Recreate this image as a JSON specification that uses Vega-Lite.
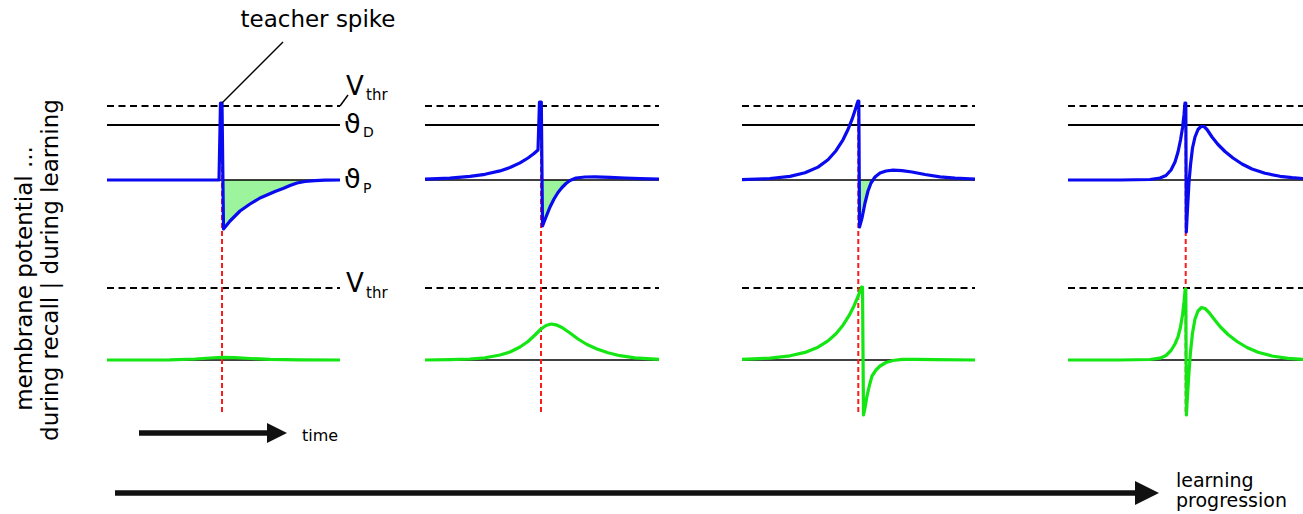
{
  "$schema": "https://vega.github.io/schema/vega-lite/v6.json",
  "width": 1303,
  "height": 514,
  "autosize": {"type": "none"},
  "padding": 0,
  "background": "white",
  "config": {"view": {"stroke": null}, "font": "DejaVu Sans"},
  "encoding": {
    "x": {"field": "x", "type": "quantitative", "scale": {"domain": [0, 1303], "nice": false, "zero": false}, "axis": null},
    "y": {"field": "y", "type": "quantitative", "scale": {"domain": [0, 514], "nice": false, "zero": false, "reverse": true}, "axis": null}
  },
  "datasets": {
    "fills": [
      {"p": 1, "x": 222.4, "y": 180, "b": 180}, {"p": 1, "x": 223.5, "y": 229, "b": 180}, {"p": 1, "x": 226, "y": 226, "b": 180}, {"p": 1, "x": 230, "y": 221, "b": 180}, {"p": 1, "x": 235, "y": 216, "b": 180}, {"p": 1, "x": 240, "y": 211, "b": 180}, {"p": 1, "x": 250, "y": 204, "b": 180}, {"p": 1, "x": 260, "y": 198, "b": 180}, {"p": 1, "x": 267, "y": 195, "b": 180}, {"p": 1, "x": 275, "y": 191.5, "b": 180}, {"p": 1, "x": 283, "y": 188.5, "b": 180}, {"p": 1, "x": 290, "y": 185.5, "b": 180}, {"p": 1, "x": 297, "y": 183, "b": 180}, {"p": 1, "x": 305, "y": 181.5, "b": 180}, {"p": 1, "x": 315, "y": 180.6, "b": 180}, {"p": 1, "x": 325, "y": 180, "b": 180},
      {"p": 2, "x": 541.8, "y": 180, "b": 180}, {"p": 2, "x": 542.5, "y": 226, "b": 180}, {"p": 2, "x": 546, "y": 217, "b": 180}, {"p": 2, "x": 550, "y": 207, "b": 180}, {"p": 2, "x": 554, "y": 199, "b": 180}, {"p": 2, "x": 558, "y": 192.5, "b": 180}, {"p": 2, "x": 562, "y": 187.5, "b": 180}, {"p": 2, "x": 566, "y": 183.5, "b": 180}, {"p": 2, "x": 570, "y": 180.5, "b": 180}, {"p": 2, "x": 571, "y": 180, "b": 180},
      {"p": 3, "x": 859.2, "y": 180, "b": 180}, {"p": 3, "x": 859.5, "y": 227, "b": 180}, {"p": 3, "x": 862, "y": 218, "b": 180}, {"p": 3, "x": 865, "y": 203, "b": 180}, {"p": 3, "x": 868, "y": 191, "b": 180}, {"p": 3, "x": 871, "y": 183, "b": 180}, {"p": 3, "x": 873.5, "y": 180, "b": 180}
    ],
    "blue": [
      {"p": 1, "x": 107, "y": 180}, {"p": 1, "x": 219, "y": 180}, {"p": 1, "x": 220.5, "y": 103}, {"p": 1, "x": 222, "y": 103}, {"p": 1, "x": 223.5, "y": 229}, {"p": 1, "x": 226, "y": 226}, {"p": 1, "x": 230, "y": 221}, {"p": 1, "x": 235, "y": 216}, {"p": 1, "x": 240, "y": 211}, {"p": 1, "x": 250, "y": 204}, {"p": 1, "x": 260, "y": 198}, {"p": 1, "x": 267, "y": 195}, {"p": 1, "x": 275, "y": 191.5}, {"p": 1, "x": 283, "y": 188.5}, {"p": 1, "x": 290, "y": 185.5}, {"p": 1, "x": 297, "y": 183}, {"p": 1, "x": 305, "y": 181.5}, {"p": 1, "x": 315, "y": 180.6}, {"p": 1, "x": 325, "y": 180.2}, {"p": 1, "x": 340, "y": 180},
      {"p": 2, "x": 425, "y": 179.1}, {"p": 2, "x": 450, "y": 178.1}, {"p": 2, "x": 470, "y": 176.4}, {"p": 2, "x": 485, "y": 174.3}, {"p": 2, "x": 500, "y": 170.9}, {"p": 2, "x": 510, "y": 167.5}, {"p": 2, "x": 520, "y": 162.9}, {"p": 2, "x": 528, "y": 158}, {"p": 2, "x": 534, "y": 153.5}, {"p": 2, "x": 538, "y": 150}, {"p": 2, "x": 539.5, "y": 102}, {"p": 2, "x": 541.3, "y": 102}, {"p": 2, "x": 542.5, "y": 226}, {"p": 2, "x": 546, "y": 217}, {"p": 2, "x": 550, "y": 207}, {"p": 2, "x": 554, "y": 199}, {"p": 2, "x": 558, "y": 192.5}, {"p": 2, "x": 562, "y": 187.5}, {"p": 2, "x": 566, "y": 183.5}, {"p": 2, "x": 570, "y": 180.5}, {"p": 2, "x": 576, "y": 178}, {"p": 2, "x": 585, "y": 177}, {"p": 2, "x": 595, "y": 176.8}, {"p": 2, "x": 610, "y": 177.3}, {"p": 2, "x": 625, "y": 178}, {"p": 2, "x": 640, "y": 178.6}, {"p": 2, "x": 659, "y": 179},
      {"p": 3, "x": 742, "y": 179.6}, {"p": 3, "x": 770, "y": 178.5}, {"p": 3, "x": 790, "y": 176.4}, {"p": 3, "x": 805, "y": 172.8}, {"p": 3, "x": 818, "y": 167.1}, {"p": 3, "x": 828, "y": 159.7}, {"p": 3, "x": 836, "y": 150.7}, {"p": 3, "x": 843, "y": 139.8}, {"p": 3, "x": 848, "y": 129.5}, {"p": 3, "x": 852, "y": 119.4}, {"p": 3, "x": 855, "y": 110.6}, {"p": 3, "x": 857, "y": 104}, {"p": 3, "x": 858, "y": 101}, {"p": 3, "x": 858.8, "y": 101}, {"p": 3, "x": 859.5, "y": 227}, {"p": 3, "x": 862, "y": 218}, {"p": 3, "x": 865, "y": 203}, {"p": 3, "x": 868, "y": 191}, {"p": 3, "x": 871, "y": 183}, {"p": 3, "x": 875, "y": 177}, {"p": 3, "x": 880, "y": 173}, {"p": 3, "x": 886, "y": 171}, {"p": 3, "x": 893, "y": 170.2}, {"p": 3, "x": 902, "y": 170.7}, {"p": 3, "x": 912, "y": 172}, {"p": 3, "x": 925, "y": 174.5}, {"p": 3, "x": 940, "y": 176.8}, {"p": 3, "x": 955, "y": 178.2}, {"p": 3, "x": 975, "y": 179},
      {"p": 4, "x": 1068, "y": 180}, {"p": 4, "x": 1120, "y": 180}, {"p": 4, "x": 1150, "y": 179.5}, {"p": 4, "x": 1160, "y": 178}, {"p": 4, "x": 1166, "y": 175.5}, {"p": 4, "x": 1171, "y": 170}, {"p": 4, "x": 1175, "y": 162}, {"p": 4, "x": 1178, "y": 152}, {"p": 4, "x": 1180.5, "y": 140}, {"p": 4, "x": 1182.5, "y": 128}, {"p": 4, "x": 1184, "y": 115}, {"p": 4, "x": 1185, "y": 103}, {"p": 4, "x": 1185.8, "y": 103}, {"p": 4, "x": 1186.3, "y": 232}, {"p": 4, "x": 1187, "y": 218}, {"p": 4, "x": 1188, "y": 200}, {"p": 4, "x": 1189, "y": 182}, {"p": 4, "x": 1190.5, "y": 165}, {"p": 4, "x": 1192.5, "y": 148}, {"p": 4, "x": 1195, "y": 137}, {"p": 4, "x": 1198, "y": 129.5}, {"p": 4, "x": 1201, "y": 126.5}, {"p": 4, "x": 1204, "y": 126.5}, {"p": 4, "x": 1207, "y": 129.5}, {"p": 4, "x": 1212, "y": 137}, {"p": 4, "x": 1218, "y": 144.5}, {"p": 4, "x": 1225, "y": 151.5}, {"p": 4, "x": 1233, "y": 158}, {"p": 4, "x": 1242, "y": 164}, {"p": 4, "x": 1252, "y": 169}, {"p": 4, "x": 1265, "y": 173.3}, {"p": 4, "x": 1280, "y": 176.3}, {"p": 4, "x": 1292, "y": 177.7}, {"p": 4, "x": 1303, "y": 178.5}
    ],
    "green": [
      {"p": 1, "x": 107, "y": 360}, {"p": 1, "x": 170, "y": 359.8}, {"p": 1, "x": 195, "y": 359}, {"p": 1, "x": 210, "y": 358}, {"p": 1, "x": 222, "y": 357.3}, {"p": 1, "x": 235, "y": 357.6}, {"p": 1, "x": 250, "y": 358.5}, {"p": 1, "x": 270, "y": 359.4}, {"p": 1, "x": 300, "y": 359.8}, {"p": 1, "x": 340, "y": 360},
      {"p": 2, "x": 425, "y": 360}, {"p": 2, "x": 450, "y": 359.6}, {"p": 2, "x": 470, "y": 359}, {"p": 2, "x": 485, "y": 357.8}, {"p": 2, "x": 500, "y": 355}, {"p": 2, "x": 510, "y": 352}, {"p": 2, "x": 520, "y": 347}, {"p": 2, "x": 528, "y": 341.5}, {"p": 2, "x": 535, "y": 335}, {"p": 2, "x": 541, "y": 329}, {"p": 2, "x": 546, "y": 325.5}, {"p": 2, "x": 551, "y": 324}, {"p": 2, "x": 556, "y": 324.8}, {"p": 2, "x": 562, "y": 327.5}, {"p": 2, "x": 570, "y": 333}, {"p": 2, "x": 578, "y": 339}, {"p": 2, "x": 587, "y": 344.5}, {"p": 2, "x": 597, "y": 349}, {"p": 2, "x": 608, "y": 352.8}, {"p": 2, "x": 620, "y": 355.7}, {"p": 2, "x": 635, "y": 357.8}, {"p": 2, "x": 659, "y": 359.3},
      {"p": 3, "x": 742, "y": 359.4}, {"p": 3, "x": 770, "y": 358.1}, {"p": 3, "x": 790, "y": 355.8}, {"p": 3, "x": 805, "y": 352.4}, {"p": 3, "x": 818, "y": 347.2}, {"p": 3, "x": 828, "y": 340.9}, {"p": 3, "x": 836, "y": 333.7}, {"p": 3, "x": 843, "y": 325.2}, {"p": 3, "x": 849, "y": 315.7}, {"p": 3, "x": 854, "y": 305.9}, {"p": 3, "x": 858, "y": 296.5}, {"p": 3, "x": 861.5, "y": 287}, {"p": 3, "x": 862.5, "y": 287}, {"p": 3, "x": 863.5, "y": 415}, {"p": 3, "x": 865, "y": 408}, {"p": 3, "x": 867, "y": 396}, {"p": 3, "x": 869.5, "y": 385}, {"p": 3, "x": 872, "y": 376}, {"p": 3, "x": 876, "y": 370}, {"p": 3, "x": 880, "y": 366}, {"p": 3, "x": 886, "y": 362.5}, {"p": 3, "x": 893, "y": 360.5}, {"p": 3, "x": 902, "y": 359.4}, {"p": 3, "x": 915, "y": 359.3}, {"p": 3, "x": 935, "y": 359.7}, {"p": 3, "x": 975, "y": 360},
      {"p": 4, "x": 1068, "y": 360}, {"p": 4, "x": 1120, "y": 360}, {"p": 4, "x": 1150, "y": 359.5}, {"p": 4, "x": 1160, "y": 358.2}, {"p": 4, "x": 1166, "y": 355.5}, {"p": 4, "x": 1171, "y": 350.5}, {"p": 4, "x": 1175, "y": 344}, {"p": 4, "x": 1178, "y": 337}, {"p": 4, "x": 1180.5, "y": 327}, {"p": 4, "x": 1182.5, "y": 315}, {"p": 4, "x": 1184, "y": 302}, {"p": 4, "x": 1185.2, "y": 289}, {"p": 4, "x": 1185.8, "y": 289}, {"p": 4, "x": 1186.4, "y": 415}, {"p": 4, "x": 1187, "y": 404}, {"p": 4, "x": 1188, "y": 388}, {"p": 4, "x": 1189, "y": 372}, {"p": 4, "x": 1190.5, "y": 352}, {"p": 4, "x": 1192.5, "y": 333}, {"p": 4, "x": 1195, "y": 319}, {"p": 4, "x": 1198, "y": 311}, {"p": 4, "x": 1201.5, "y": 307.5}, {"p": 4, "x": 1205, "y": 308.5}, {"p": 4, "x": 1209, "y": 312.5}, {"p": 4, "x": 1214, "y": 319}, {"p": 4, "x": 1220, "y": 326.5}, {"p": 4, "x": 1228, "y": 334.5}, {"p": 4, "x": 1237, "y": 341.5}, {"p": 4, "x": 1247, "y": 347.5}, {"p": 4, "x": 1258, "y": 352.3}, {"p": 4, "x": 1272, "y": 356}, {"p": 4, "x": 1288, "y": 358.3}, {"p": 4, "x": 1303, "y": 359.3}
    ],
    "thresholds": [
      {"x": 107, "x2": 340, "y": 106}, {"x": 425, "x2": 659, "y": 106}, {"x": 742, "x2": 975, "y": 106}, {"x": 1068, "x2": 1303, "y": 106},
      {"x": 107, "x2": 340, "y": 288}, {"x": 425, "x2": 659, "y": 288}, {"x": 742, "x2": 975, "y": 288}, {"x": 1068, "x2": 1303, "y": 288}
    ],
    "thetaD": [
      {"x": 107, "x2": 340, "y": 125}, {"x": 425, "x2": 659, "y": 125}, {"x": 742, "x2": 975, "y": 125}, {"x": 1068, "x2": 1303, "y": 125}
    ],
    "baselines": [
      {"x": 107, "x2": 340, "y": 180}, {"x": 425, "x2": 659, "y": 180}, {"x": 742, "x2": 975, "y": 180}, {"x": 1068, "x2": 1303, "y": 180},
      {"x": 107, "x2": 340, "y": 360}, {"x": 425, "x2": 659, "y": 360}, {"x": 742, "x2": 975, "y": 360}, {"x": 1068, "x2": 1303, "y": 360}
    ],
    "teacher": [
      {"x": 222, "y": 103, "y2": 415}, {"x": 541, "y": 103, "y2": 415}, {"x": 858.3, "y": 103, "y2": 415}, {"x": 1185.7, "y": 103, "y2": 415}
    ]
  },
  "layer": [
    {
      "data": {"name": "fills"},
      "mark": {"type": "area", "color": "#9cf59c", "opacity": 1},
      "encoding": {"y2": {"field": "b"}, "detail": {"field": "p"}}
    },
    {
      "data": {"name": "thresholds"},
      "mark": {"type": "rule", "color": "black", "strokeWidth": 2, "strokeDash": [7, 4.5]},
      "encoding": {"x2": {"field": "x2"}}
    },
    {
      "data": {"name": "thetaD"},
      "mark": {"type": "rule", "color": "black", "strokeWidth": 2},
      "encoding": {"x2": {"field": "x2"}}
    },
    {
      "data": {"name": "baselines"},
      "mark": {"type": "rule", "color": "black", "strokeWidth": 1.6},
      "encoding": {"x2": {"field": "x2"}}
    },
    {
      "data": {"name": "teacher"},
      "mark": {"type": "rule", "color": "#ff1a1a", "strokeWidth": 2, "strokeDash": [5, 3]},
      "encoding": {"y2": {"field": "y2"}}
    },
    {
      "data": {"name": "blue"},
      "mark": {"type": "line", "color": "#0a0af0", "strokeWidth": 3.2, "strokeJoin": "round"},
      "encoding": {"detail": {"field": "p"}}
    },
    {
      "data": {"name": "green"},
      "mark": {"type": "line", "color": "#14e614", "strokeWidth": 3.2, "strokeJoin": "round"},
      "encoding": {"detail": {"field": "p"}}
    },
    {
      "data": {"values": [{"x": 222, "y": 103, "x2": 283, "y2": 42}, {"x": 340, "y": 106, "x2": 348, "y2": 95}]},
      "mark": {"type": "rule", "color": "black", "strokeWidth": 1.5},
      "encoding": {"x2": {"field": "x2"}, "y2": {"field": "y2"}}
    },
    {
      "data": {"values": [{"x": 139, "y": 433, "x2": 270}, {"x": 115, "y": 493, "x2": 1138}]},
      "mark": {"type": "rule", "color": "#111111", "strokeWidth": 5.5},
      "encoding": {"x2": {"field": "x2"}}
    },
    {
      "data": {"values": [
        {"a": "time", "x": 267, "y": 423, "y2": 443}, {"a": "time", "x": 287, "y": 433, "y2": 433},
        {"a": "learn", "x": 1135, "y": 481, "y2": 505}, {"a": "learn", "x": 1159, "y": 493, "y2": 493}
      ]},
      "mark": {"type": "area", "color": "#111111"},
      "encoding": {"y2": {"field": "y2"}, "detail": {"field": "a"}}
    },
    {
      "data": {"values": [{"x": 318, "y": 27, "t": "teacher spike"}]},
      "mark": {"type": "text", "font": "DejaVu Sans", "fontSize": 23, "align": "center", "baseline": "alphabetic", "color": "black"},
      "encoding": {"text": {"field": "t"}}
    },
    {
      "data": {"values": [{"x": 346, "y": 95, "t": "V"}, {"x": 346, "y": 292, "t": "V"}]},
      "mark": {"type": "text", "font": "DejaVu Sans", "fontSize": 26, "align": "left", "baseline": "alphabetic", "color": "black"},
      "encoding": {"text": {"field": "t"}}
    },
    {
      "data": {"values": [{"x": 366, "y": 100, "t": "thr"}, {"x": 366, "y": 298, "t": "thr"}]},
      "mark": {"type": "text", "font": "DejaVu Sans", "fontSize": 15, "align": "left", "baseline": "alphabetic", "color": "black"},
      "encoding": {"text": {"field": "t"}}
    },
    {
      "data": {"values": [{"x": 344, "y": 133, "t": "ϑ"}, {"x": 344, "y": 188, "t": "ϑ"}]},
      "mark": {"type": "text", "font": "DejaVu Sans", "fontSize": 27, "align": "left", "baseline": "alphabetic", "color": "black"},
      "encoding": {"text": {"field": "t"}}
    },
    {
      "data": {"values": [{"x": 363, "y": 137, "t": "D"}, {"x": 363, "y": 193, "t": "P"}]},
      "mark": {"type": "text", "font": "DejaVu Sans", "fontSize": 14, "align": "left", "baseline": "alphabetic", "color": "black"},
      "encoding": {"text": {"field": "t"}}
    },
    {
      "data": {"values": [{"x": 302, "y": 441, "t": "time"}]},
      "mark": {"type": "text", "font": "DejaVu Sans", "fontSize": 16, "align": "left", "baseline": "alphabetic", "color": "black"},
      "encoding": {"text": {"field": "t"}}
    },
    {
      "data": {"values": [{"x": 1176, "y": 487, "t": "learning"}, {"x": 1176, "y": 507, "t": "progression"}]},
      "mark": {"type": "text", "font": "DejaVu Sans", "fontSize": 19, "align": "left", "baseline": "alphabetic", "color": "black"},
      "encoding": {"text": {"field": "t"}}
    },
    {
      "data": {"values": [{"x": 31.5, "y": 278.5, "t": "membrane potential ..."}, {"x": 58, "y": 270, "t": "during recall  |  during learning"}]},
      "mark": {"type": "text", "font": "DejaVu Sans", "fontSize": 23, "align": "center", "baseline": "alphabetic", "angle": 270, "color": "black"},
      "encoding": {"text": {"field": "t"}}
    }
  ]
}
